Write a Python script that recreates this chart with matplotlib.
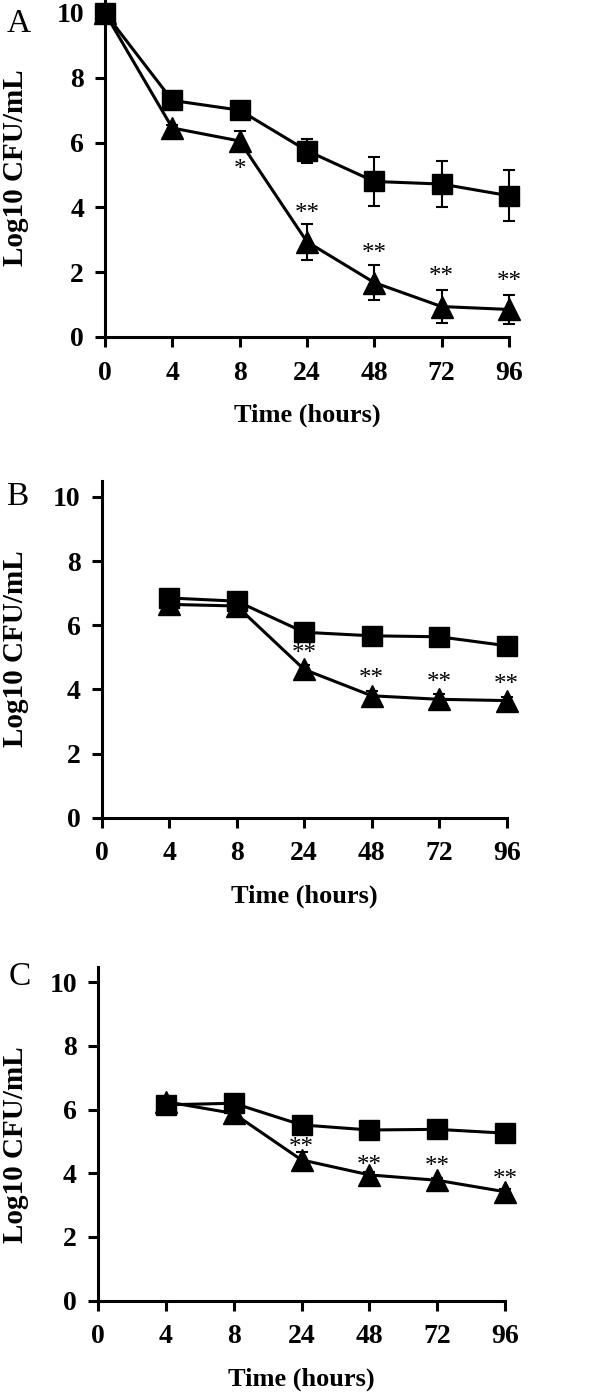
import numpy as np
import matplotlib.pyplot as plt
from matplotlib import transforms

plt.rcParams['font.family'] = ['Liberation Serif', 'DejaVu Serif']

# hours, drawn as evenly spaced categories
time_labels = ['0', '4', '8', '24', '48', '72', '96']

# panel A
a_square = [10.0, 7.3, 7.0, 5.75, 4.8, 4.72, 4.36]
a_square_err = [0.0, 0.08, 0.08, 0.37, 0.75, 0.72, 0.78]
a_tri = [10.0, 6.45, 6.05, 2.94, 1.68, 0.94, 0.85]
a_tri_err = [0.0, 0.08, 0.3, 0.55, 0.54, 0.5, 0.45]
a_star_pos = [2, 3, 4, 5, 6]
a_star_y = [5.37, 4.0, 2.78, 2.07, 1.9]
a_star_txt = ['*', '**', '**', '**', '**']

# panel B (no value at 0 h)
b_square = [np.nan, 6.85, 6.75, 5.78, 5.67, 5.64, 5.36]
b_square_err = [0, 0.05, 0.05, 0.08, 0.05, 0.05, 0.05]
b_tri = [np.nan, 6.65, 6.6, 4.62, 3.8, 3.69, 3.65]
b_tri_err = [0, 0.05, 0.05, 0.15, 0.15, 0.15, 0.12]
b_star_pos = [3, 4, 5, 6]
b_star_y = [5.33, 4.55, 4.42, 4.34]

# panel C (no value at 0 h)
c_square = [np.nan, 6.15, 6.2, 5.52, 5.36, 5.38, 5.26]
c_square_err = [0, 0.05, 0.05, 0.05, 0.05, 0.05, 0.05]
c_tri = [np.nan, 6.25, 5.88, 4.42, 3.95, 3.78, 3.42]
c_tri_err = [0, 0.05, 0.05, 0.26, 0.08, 0.08, 0.08]
c_star_pos = [3, 4, 5, 6]
c_star_y = [5.02, 4.44, 4.42, 4.0]

W, H = 600, 1396


def draw_panel(ax, letter, lpos, ylab_y, sq, sq_err, tri, tri_err, star_pos, star_y, star_txt, ytop):
    x = np.arange(len(time_labels))
    ax.errorbar(x, sq, yerr=sq_err, fmt='none', ecolor='black', elinewidth=1.5,
                capsize=4, capthick=1.5, zorder=2, clip_on=False)
    ax.errorbar(x, tri, yerr=tri_err, fmt='none', ecolor='black', elinewidth=1.5,
                capsize=4, capthick=1.5, zorder=2, clip_on=False)
    ax.plot(x, sq, color='black', lw=2.2, marker='s', markersize=14, zorder=3, clip_on=False)
    ax.plot(x, tri, color='black', lw=2.2, marker='^', markersize=16, zorder=4, clip_on=False)
    # asterisk glyph sits high in the line, so drop the baseline a bit
    star_tr = transforms.offset_copy(ax.transData, fig=fig, y=-13, units='dots')
    for p, y, t in zip(star_pos, star_y, star_txt):
        ax.text(p, y, t, ha='center', va='baseline', fontsize=18, zorder=6,
                transform=star_tr)

    ax.set_xlim(0, 6)
    ax.set_ylim(0, ytop)
    ax.set_xticks(x)
    ax.set_xticklabels(time_labels)
    ax.set_yticks([0, 2, 4, 6, 8, 10])
    for s in ['top', 'right']:
        ax.spines[s].set_visible(False)
    for s in ['left', 'bottom']:
        ax.spines[s].set_linewidth(2.2)
    ax.tick_params(direction='out', length=7, width=2.2, labelsize=20)
    ax.tick_params(axis='x', pad=10)
    ax.tick_params(axis='y', pad=8)
    for lab in ax.get_xticklabels() + ax.get_yticklabels():
        lab.set_fontweight('bold')
    ax.set_xlabel('Time (hours)', fontsize=19, fontweight='bold', labelpad=13)
    ax.set_ylabel('Log10 CFU/mL', fontsize=21, fontweight='bold')
    ax.yaxis.set_label_coords(29 / W, 1 - ylab_y / H, transform=fig.transFigure)
    fig.text(lpos[0] / W, 1 - lpos[1] / H, letter, fontsize=24, ha='center', va='center')


fig = plt.figure(figsize=(6, 13.96), dpi=100)

ax_a = fig.add_axes([0.175, 0.7586, 0.673, 0.2414])
draw_panel(ax_a, 'A', (19, 24), 168, a_square, a_square_err, a_tri, a_tri_err,
           a_star_pos, a_star_y, a_star_txt, 10.4)

ax_b = fig.add_axes([0.1695, 0.4143, 0.675, 0.2412])
draw_panel(ax_b, 'B', (17, 497), 649, b_square, b_square_err, b_tri, b_tri_err,
           b_star_pos, b_star_y, ['**'] * 4, 10.5)

ax_c = fig.add_axes([0.163, 0.0683, 0.679, 0.2388])
draw_panel(ax_c, 'C', (20, 977), 1145, c_square, c_square_err, c_tri, c_tri_err,
           c_star_pos, c_star_y, ['**'] * 4, 10.47)

fig.savefig('out.png', dpi=100)
